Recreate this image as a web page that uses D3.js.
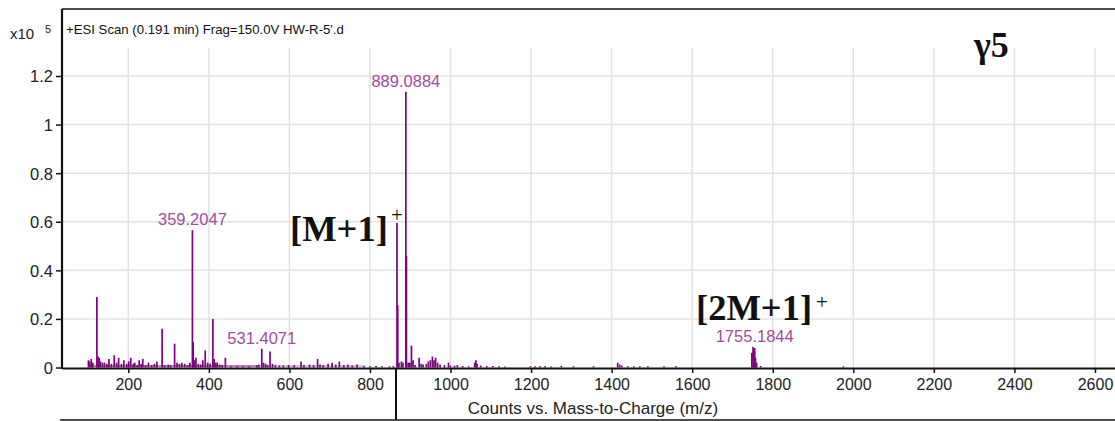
<!DOCTYPE html>
<html><head><meta charset="utf-8">
<script src="https://cdn.jsdelivr.net/npm/d3@7"></script>
<style>
html,body{margin:0;padding:0;background:#fff;}
svg{display:block;}
</style></head>
<body>
<svg id="chart" width="1115" height="421"></svg>
<script>
// ---- data ----
const mzValues = [101,104,108,112,122,125,128,131,136,141,147,152,158,165,171,176,183,189,196,201,206,212,216,222,227,232,236,243,250,258,265,271,284,290,299,305,315,321,327,333,340,347,353,359.2047,361,364,368,374,380,385,391,397,403,410,413,417,421,427,433,441,455,470,485,500,519,524,531.4071,536,541,546,552,558,565,575,585,598,612,629,636,650,660,670,676,684,696,706,715,724,735,745,756,768,785,800,815,830,848,858,867.1,868.9,872,878,882,889.0884,890.6,895,899,903,907,912,922,927,932,940,945,950,955,959,963,968,974,985,995,1000,1010,1017,1030,1045,1060,1063,1066,1075,1090,1105,1120,1135,1198,1210,1222,1235,1250,1275,1305,1355,1415,1420,1425,1440,1455,1470,1490,1530,1560,1748,1751,1753,1755.1844,1757,1760,1770,1975];
const intensities = [0.03,0.025,0.035,0.02,0.29,0.045,0.04,0.025,0.02,0.02,0.015,0.035,0.015,0.05,0.02,0.04,0.015,0.03,0.015,0.025,0.04,0.015,0.02,0.01,0.03,0.015,0.035,0.01,0.02,0.01,0.015,0.025,0.16,0.01,0.012,0.01,0.098,0.02,0.015,0.02,0.015,0.01,0.02,0.565,0.104,0.03,0.04,0.015,0.012,0.03,0.07,0.02,0.015,0.2,0.035,0.02,0.02,0.012,0.01,0.04,0.005,0.005,0.005,0.005,0.01,0.012,0.077,0.02,0.015,0.01,0.066,0.015,0.01,0.008,0.008,0.01,0.01,0.025,0.01,0.012,0.01,0.035,0.012,0.01,0.015,0.02,0.012,0.025,0.01,0.012,0.008,0.012,0.005,0.005,0.006,0.005,0.005,0.006,0.595,0.256,0.02,0.025,0.02,1.135,0.46,0.02,0.02,0.09,0.03,0.01,0.04,0.015,0.012,0.015,0.025,0.03,0.045,0.03,0.04,0.02,0.012,0.01,0.02,0.008,0.008,0.01,0.006,0.005,0.02,0.03,0.015,0.008,0.006,0.006,0.005,0.004,0.005,0.005,0.005,0.006,0.004,0.007,0.005,0.005,0.02,0.012,0.008,0.005,0.005,0.005,0.005,0.005,0.005,0.06,0.084,0.07,0.08,0.04,0.02,0.006,0.005];
const labelMz = [889.0884, 359.2047, 531.4071, 1755.1844];
const labelIntensity = [1.135, 0.565, 0.077, 0.084];
const labelText = ["889.0884", "359.2047", "531.4071", "1755.1844"];
const xTicks = [200,400,600,800,1000,1200,1400,1600,1800,2000,2200,2400,2600];
const yTicks = [0,0.2,0.4,0.6,0.8,1,1.2];
const titleText = "+ESI Scan (0.191 min) Frag=150.0V HW-R-5'.d";
const xTitle = "Counts vs. Mass-to-Charge (m/z)";

// ---- layout ----
const svg = d3.select("#chart");
const padL = 62, padR = 1115, padT = 9, axisY = 368;
const x = d3.scaleLinear().domain([35.4, 2649.7]).range([padL, padR]);
const y = d3.scaleLinear().domain([0, 1.2]).range([367.5, 76]);
const sans = "'Liberation Sans', Arial, sans-serif";
const serif = "'Liberation Serif', 'Times New Roman', serif";

// grid
svg.append("g").selectAll("line").data(xTicks).join("line")
  .attr("x1", d => x(d)).attr("x2", d => x(d))
  .attr("y1", 48).attr("y2", axisY)
  .attr("stroke", "#e2e2e2").attr("stroke-width", 1.5);
svg.append("g").selectAll("line").data(yTicks.filter(d => d > 0)).join("line")
  .attr("x1", padL).attr("x2", padR)
  .attr("y1", d => y(d)).attr("y2", d => y(d))
  .attr("stroke", "#e2e2e2").attr("stroke-width", 1.5);

// baseline trace
svg.append("line").attr("x1", x(100)).attr("x2", x(520))
  .attr("y1", y(0) - 1.5).attr("y2", y(0) - 1.5)
  .attr("stroke", "#800080").attr("stroke-width", 1);
svg.append("line").attr("x1", x(520)).attr("x2", x(790))
  .attr("y1", y(0) - 1.5).attr("y2", y(0) - 1.5)
  .attr("stroke", "#a060a0").attr("stroke-width", 0.8);

// spectrum sticks
const data = mzValues.map((m, i) => ({m, v: intensities[i]}));
svg.append("g").selectAll("line").data(data).join("line")
  .attr("x1", d => x(d.m)).attr("x2", d => x(d.m))
  .attr("y1", y(0)).attr("y2", d => y(d.v))
  .attr("stroke", "#800080").attr("stroke-width", 1.7);

// peak labels
svg.append("g").selectAll("text").data(labelText).join("text")
  .attr("x", (d, i) => x(labelMz[i]))
  .attr("y", (d, i) => y(labelIntensity[i]) - 5)
  .attr("text-anchor", "middle")
  .attr("font-family", sans).attr("font-size", 16.5)
  .attr("fill", "#a04ca0")
  .text(d => d);

// axes
const xAxis = d3.axisBottom(x).tickValues(xTicks).tickSize(5).tickSizeOuter(0).tickFormat(d3.format("d"));
const gx = svg.append("g").attr("transform", `translate(0,${axisY})`).call(xAxis);
gx.select(".domain").attr("stroke", "#111").attr("stroke-width", 2.2);
gx.selectAll(".tick line").attr("stroke", "#111").attr("stroke-width", 1.5);
gx.selectAll(".tick text").attr("font-family", sans).attr("font-size", 16).attr("fill", "#222").attr("dy", "0.9em");

const yAxis = d3.axisLeft(y).tickValues(yTicks).tickSize(6).tickSizeOuter(0).tickFormat(d => d3.format("~g")(d));
const gy = svg.append("g").attr("transform", `translate(${padL},0)`).call(yAxis);
gy.select(".domain").remove();
gy.selectAll(".tick line").attr("stroke", "#111").attr("stroke-width", 1.5);
gy.selectAll(".tick text").attr("font-family", sans).attr("font-size", 16.5).attr("fill", "#222").attr("x", -9).attr("dy", "0.36em");

// frame
svg.append("line").attr("x1", padL).attr("x2", padL).attr("y1", padT).attr("y2", axisY + 1)
  .attr("stroke", "#111").attr("stroke-width", 2.2);
svg.append("line").attr("x1", padL).attr("x2", padR).attr("y1", padT).attr("y2", padT)
  .attr("stroke", "#111").attr("stroke-width", 1.5);
// cursor and lower border
svg.append("line").attr("x1", 396).attr("x2", 396).attr("y1", axisY).attr("y2", 420)
  .attr("stroke", "#111").attr("stroke-width", 2);
svg.append("line").attr("x1", 60).attr("x2", padR).attr("y1", 420).attr("y2", 420)
  .attr("stroke", "#111").attr("stroke-width", 1.5);

// header texts
svg.append("text").attr("x", 10).attr("y", 39).attr("font-family", sans).attr("font-size", 15).attr("fill", "#222").text("x10");
svg.append("text").attr("x", 45).attr("y", 33).attr("font-family", sans).attr("font-size", 11).attr("fill", "#222").text("5");
svg.append("text").attr("x", 66).attr("y", 34).attr("font-family", sans).attr("font-size", 13.2).attr("fill", "#111").text(titleText);
svg.append("text").attr("x", 593).attr("y", 414).attr("text-anchor", "middle").attr("font-family", sans).attr("font-size", 17).attr("fill", "#222").text(xTitle);

// annotations
function ann(tx, ty, main, sx, sy) {
  svg.append("text").attr("x", tx).attr("y", ty).attr("font-family", serif).attr("font-weight", "bold")
    .attr("font-size", 36.5).attr("fill", "#111").text(main);
  svg.append("text").attr("x", sx).attr("y", sy).attr("font-family", serif)
    .attr("font-size", 21).attr("fill", "#111").text("+");
}
ann(290, 241, "[M+1]", 391, 222);
ann(696, 320, "[2M+1]", 816, 309);
svg.append("text").attr("x", 974).attr("y", 57).attr("font-family", serif).attr("font-weight", "bold")
  .attr("font-size", 36).attr("fill", "#111").text("γ5");
</script>
</body></html>
